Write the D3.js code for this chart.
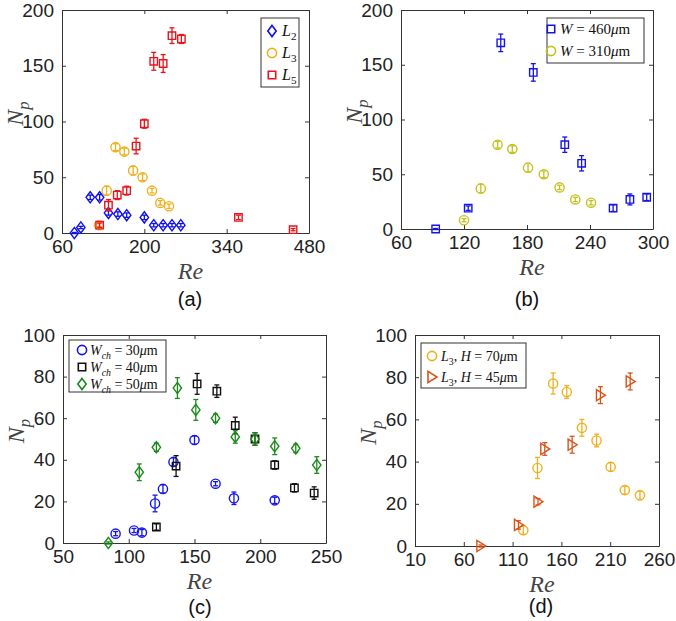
<html>
<body style="margin:0;background:#fff">
<svg id="mainSvg" width="676" height="621"></svg>
</body>
<script src="https://d3js.org/d3.v7.min.js"></script>
<script>
// ---- panel (a) ----
const aXTicks = [60, 200, 340, 480], aYTicks = [0, 50, 100, 150, 200]
const aL2Re = [81, 92, 108, 124, 139, 155, 170, 200, 216, 232, 247, 262]
const aL2Np = [0, 5, 32, 32, 18, 17, 16, 14, 7, 7, 7, 7]
const aL2Err = [0.5, 1, 2, 2.5, 2, 2, 2, 2, 1.5, 1.5, 1.5, 1.5]
const aL3Re = [123, 136, 151, 166, 181, 197, 213, 227, 242]
const aL3Np = [7, 38, 77, 73, 56, 50, 38, 27, 24]
const aL3Err = [1.5, 4, 3, 3, 4, 3, 2, 2, 2]
const aL5Re = [124, 139, 154, 170, 186, 200, 216, 232, 247, 263, 360, 453]
const aL5Np = [7, 25, 34, 38, 78, 98, 154, 152, 177, 174, 14, 3]
const aL5Err = [2, 5, 4, 4, 7, 4, 8, 8, 7, 4, 2, 1]

// ---- panel (b) ----
const bXTicks = [60, 120, 180, 240, 300], bYTicks = [0, 50, 100, 150, 200]
const bW460Re = [93, 124, 155, 186, 216, 232, 262, 278, 294]
const bW460Np = [0, 19, 170, 143, 77, 60, 19, 27, 29]
const bW460Err = [0.5, 2, 8, 8, 7, 7, 3, 5, 3]
const bW310Re = [120, 136, 152, 166, 181, 196, 211, 226, 241]
const bW310Np = [8, 37, 77, 73, 56, 50, 38, 27, 24]
const bW310Err = [1.5, 4, 3, 3, 4, 3, 2, 2, 2]

// ---- panel (c) ----
const cXTicks = [50, 100, 150, 200, 250], cYTicks = [0, 20, 40, 60, 80, 100]
const cW30Re = [90, 104, 110, 120, 126, 134, 150, 166, 180, 211]
const cW30Np = [4.5, 6, 5, 19, 26, 39, 49.5, 28.5, 21.5, 20.5]
const cW30Err = [1, 1, 1.5, 4, 2, 2, 2, 1, 3, 1.5]
const cW40Re = [121, 136, 152, 167, 181, 196, 211, 226, 241]
const cW40Np = [7.7, 37, 76.5, 73, 56.5, 50, 37.5, 26.5, 24]
const cW40Err = [1.5, 5, 5, 3, 4, 3, 2, 2, 3]
const cW50Re = [84.5, 108, 121, 137, 151, 166, 181, 196, 211, 227, 243]
const cW50Np = [0, 34, 46, 74.5, 64, 60, 51, 50, 46.5, 45.5, 37.5]
const cW50Err = [0.5, 4, 2, 5, 5, 2, 3, 3, 4, 2, 4]

// ---- panel (d) ----
const dXTicks = [10, 60, 110, 160, 210, 260], dYTicks = [0, 20, 40, 60, 80, 100]
const dH70Re = [121, 135.5, 151.5, 165.5, 181, 196, 210.5, 225, 240.5]
const dH70Np = [7.5, 37, 77, 73, 56, 50, 37.5, 26.5, 24]
const dH70Err = [2, 5, 5, 3, 4, 3, 2, 2, 2]
const dH45Re = [77.5, 116, 136, 143, 171, 200, 230.5]
const dH45Np = [0, 10, 21, 46, 48, 71.5, 78]
const dH45Err = [0.5, 2, 1.5, 3, 4, 4, 4]

const svg = d3.select('#mainSvg')
const axisColor = '#333'
const tickFont = 'Liberation Sans, Arial, sans-serif'
const mathFont = 'Liberation Serif, DejaVu Serif, serif'

function markerPath(type) {
    if (type === 'circle') return 'M4.6,0A4.6,4.6 0 1,1 -4.6,0A4.6,4.6 0 1,1 4.6,0Z'
    if (type === 'square') return 'M-3.7,-3.7H3.7V3.7H-3.7Z'
    if (type === 'diamond') return 'M0,-5.6L4.2,0L0,5.6L-4.2,0Z'
    if (type === 'tri') return 'M-4,-5.6L5,0L-4,5.6Z'
}

// rich text: parts of {t, i (italic), sub}
function richText(sel, parts, size) {
    parts.forEach(p => {
        sel.append('tspan')
            .attr('font-style', p.i ? 'italic' : 'normal')
            .attr('font-size', p.sub ? size * 0.7 : size)
            .attr('dy', p.sub ? size * 0.25 : (p.up ? -size * 0.25 : 0))
            .text(p.t)
    })
}

function drawPanel(cfg) {
    const w = cfg.right - cfg.left, h = cfg.bottom - cfg.top
    const g = svg.append('g').attr('transform', `translate(${cfg.left}, ${cfg.top})`)
    const x = d3.scaleLinear().domain(cfg.xDomain).range([0, w])
    const y = d3.scaleLinear().domain(cfg.yDomain).range([h, 0])

    // axes with inward ticks on all sides
    const tl = 4
    const axes = [
        [d3.axisBottom(x).tickValues(cfg.xTicks).tickSizeInner(-tl).tickSizeOuter(0).tickPadding(7), `translate(0,${h})`, true],
        [d3.axisTop(x).tickValues(cfg.xTicks).tickSizeInner(-tl).tickSizeOuter(0), 'translate(0,0)', false],
        [d3.axisLeft(y).tickValues(cfg.yTicks).tickSizeInner(-tl).tickSizeOuter(0).tickPadding(8), 'translate(0,0)', true],
        [d3.axisRight(y).tickValues(cfg.yTicks).tickSizeInner(-tl).tickSizeOuter(0), `translate(${w},0)`, false]
    ]
    axes.forEach(([ax, tr, labels]) => {
        const a = g.append('g').attr('transform', tr).call(ax)
        a.select('.domain').attr('stroke', axisColor)
        a.selectAll('.tick line').attr('stroke', axisColor)
        a.selectAll('text').attr('fill', '#222').attr('font-family', tickFont).attr('font-size', 19)
        if (!labels) a.selectAll('text').remove()
    })

    // series
    cfg.series.forEach(s => {
        const sg = g.append('g')
        s.re.forEach((r, i) => {
            const cx = x(r), cy = y(s.np[i]), e = s.err[i]
            const y0 = y(s.np[i] - e), y1 = y(s.np[i] + e)
            sg.append('line').attr('x1', cx).attr('x2', cx).attr('y1', y0).attr('y2', y1)
                .attr('stroke', s.color).attr('stroke-width', 1.3)
            ;[y0, y1].forEach(yy => sg.append('line').attr('x1', cx - 2.5).attr('x2', cx + 2.5)
                .attr('y1', yy).attr('y2', yy).attr('stroke', s.color).attr('stroke-width', 1.3))
            sg.append('path').attr('d', markerPath(s.marker))
                .attr('transform', `translate(${cx},${cy})`)
                .attr('fill', 'none').attr('stroke', s.color).attr('stroke-width', 1.4)
        })
    })

    // legend
    const L = cfg.legend
    const lg = svg.append('g')
    lg.append('rect').attr('x', L.x0).attr('y', L.y0).attr('width', L.x1 - L.x0).attr('height', L.y1 - L.y0)
        .attr('fill', '#fff').attr('stroke', axisColor).attr('stroke-width', 1)
    cfg.series.forEach((s, i) => {
        const yy = L.rows[i]
        lg.append('path').attr('d', markerPath(s.marker)).attr('transform', `translate(${L.mx},${yy})`)
            .attr('fill', 'none').attr('stroke', s.color).attr('stroke-width', 1.6)
        const t = lg.append('text').attr('x', L.tx).attr('y', yy + 5).attr('font-family', mathFont).attr('fill', '#111')
        richText(t, s.label, L.size)
    })

    // axis titles
    const re = svg.append('text').attr('x', cfg.left + w / 2 + 5).attr('y', cfg.bottom + 46)
        .attr('text-anchor', 'middle').attr('font-family', mathFont).attr('fill', '#444')
    richText(re, [{ t: 'Re', i: true }], 24)
    const np = svg.append('text')
        .attr('transform', `translate(${cfg.left - 39},${cfg.top + h / 2 - 8}) rotate(-90)`)
        .attr('text-anchor', 'middle').attr('font-family', mathFont).attr('fill', '#444')
    richText(np, [{ t: 'N', i: true }, { t: 'p', i: true, sub: true }], 24)

    svg.append('text').attr('x', cfg.labelX).attr('y', cfg.labelY).attr('text-anchor', 'middle')
        .attr('font-family', tickFont).attr('font-size', 20).attr('fill', '#111').text(cfg.name)
}

const um = [{ t: 'μ', i: true }, { t: 'm' }]

drawPanel({
    left: 62, right: 309, top: 10, bottom: 233, xDomain: [60, 480], yDomain: [0, 200],
    xTicks: aXTicks, yTicks: aYTicks, name: '(a)', labelX: 190, labelY: 306,
    legend: { x0: 261, x1: 299, y0: 18, y1: 87, mx: 272, tx: 282, rows: [31, 53, 75], size: 16 },
    series: [
        { re: aL2Re, np: aL2Np, err: aL2Err, color: '#1010f0', marker: 'diamond', label: [{ t: 'L', i: true }, { t: '2', sub: true }] },
        { re: aL3Re, np: aL3Np, err: aL3Err, color: '#edb120', marker: 'circle', label: [{ t: 'L', i: true }, { t: '3', sub: true }] },
        { re: aL5Re, np: aL5Np, err: aL5Err, color: '#e8141c', marker: 'square', label: [{ t: 'L', i: true }, { t: '5', sub: true }] }
    ]
})

drawPanel({
    left: 401, right: 653, top: 10, bottom: 229, xDomain: [60, 300], yDomain: [0, 200],
    xTicks: bXTicks, yTicks: bYTicks, name: '(b)', labelX: 527, labelY: 306,
    legend: { x0: 547, x1: 644, y0: 18, y1: 63, mx: 551, tx: 560, rows: [29, 51], size: 15 },
    series: [
        { re: bW460Re, np: bW460Np, err: bW460Err, color: '#1414e6', marker: 'square', label: [{ t: 'W', i: true }, { t: ' = 460' }, ...um] },
        { re: bW310Re, np: bW310Np, err: bW310Err, color: '#c2c21e', marker: 'circle', label: [{ t: 'W', i: true }, { t: ' = 310' }, ...um] }
    ]
})

drawPanel({
    left: 63, right: 326, top: 335, bottom: 543, xDomain: [50, 250], yDomain: [0, 100],
    xTicks: cXTicks, yTicks: cYTicks, name: '(c)', labelX: 200, labelY: 614,
    legend: { x0: 69, x1: 166, y0: 340, y1: 392, mx: 82, tx: 90, rows: [350, 367, 384], size: 14 },
    series: [
        { re: cW30Re, np: cW30Np, err: cW30Err, color: '#1414f0', marker: 'circle', label: [{ t: 'W', i: true }, { t: 'ch', i: true, sub: true }, { t: ' = 30', up: true }, ...um] },
        { re: cW40Re, np: cW40Np, err: cW40Err, color: '#111111', marker: 'square', label: [{ t: 'W', i: true }, { t: 'ch', i: true, sub: true }, { t: ' = 40', up: true }, ...um] },
        { re: cW50Re, np: cW50Np, err: cW50Err, color: '#1e8a1e', marker: 'diamond', label: [{ t: 'W', i: true }, { t: 'ch', i: true, sub: true }, { t: ' = 50', up: true }, ...um] }
    ]
})

drawPanel({
    left: 415, right: 659, top: 335, bottom: 546, xDomain: [10, 260], yDomain: [0, 100],
    xTicks: dXTicks, yTicks: dYTicks, name: '(d)', labelX: 541, labelY: 613,
    legend: { x0: 421, x1: 526, y0: 343, y1: 388, mx: 432, tx: 441, rows: [356, 377], size: 14 },
    series: [
        { re: dH70Re, np: dH70Np, err: dH70Err, color: '#edb120', marker: 'circle', label: [{ t: 'L', i: true }, { t: '3', sub: true }, { t: ', ', up: true }, { t: 'H', i: true }, { t: ' = 70' }, ...um] },
        { re: dH45Re, np: dH45Np, err: dH45Err, color: '#d95319', marker: 'tri', label: [{ t: 'L', i: true }, { t: '3', sub: true }, { t: ', ', up: true }, { t: 'H', i: true }, { t: ' = 45' }, ...um] }
    ]
})
</script>
</html>
